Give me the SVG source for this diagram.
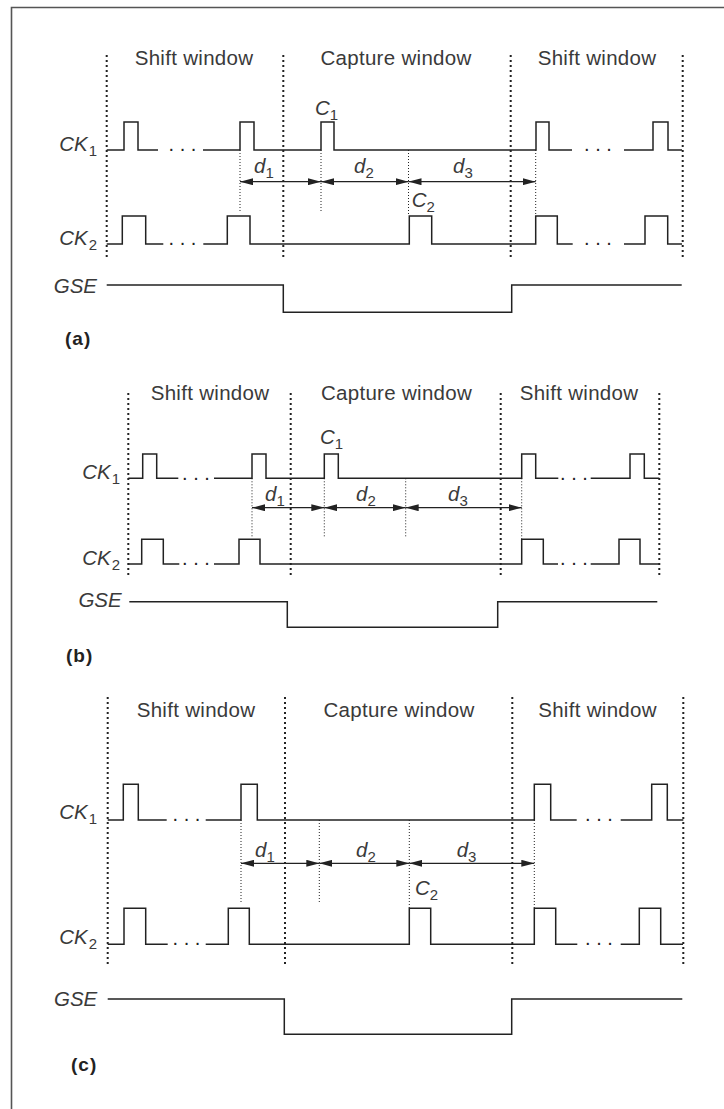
<svg xmlns="http://www.w3.org/2000/svg" width="724" height="1109" viewBox="0 0 724 1109">
<defs>
<marker id="ah" viewBox="0 0 13 7" refX="13" refY="3.5" markerWidth="13" markerHeight="7" markerUnits="userSpaceOnUse" orient="auto-start-reverse">
<path d="M0,0 L13,3.5 L0,7 Z" fill="#222"/>
</marker>
</defs>
<style>
.frame{fill:none;stroke:#555;stroke-width:1.6}
.sig{fill:none;stroke:#222;stroke-width:1.5}
.win{fill:none;stroke:#222;stroke-width:2;stroke-dasharray:2 3}
.mk{fill:none;stroke:#222;stroke-width:1;stroke-dasharray:1 2}
.arr{fill:none;stroke:#222;stroke-width:1.2;marker-start:url(#ah);marker-end:url(#ah)}
.t{font-family:"Liberation Sans",Arial,sans-serif;font-size:20.5px;fill:#3a3a3a;letter-spacing:0.3px}
.lb{font-family:"Liberation Sans",Arial,sans-serif;font-size:20.5px;fill:#3a3a3a;font-style:italic}
.el{font-family:"Liberation Sans",Arial,sans-serif;font-size:20px;fill:#222;text-anchor:middle}
.pl{font-family:"Liberation Sans",Arial,sans-serif;font-size:19px;font-weight:bold;fill:#222;letter-spacing:1px}
.sub{font-size:15px;font-style:normal}
</style>
<rect width="724" height="1109" fill="#fff"/>
<path class="frame" d="M11.5,1109 V7.5 H724"/>

<!-- Panel (a) -->
<g id="panel-a">
<g id="a-windows">
<text class="t" x="194" y="65" text-anchor="middle">Shift window</text>
<text class="t" x="396" y="65" text-anchor="middle">Capture window</text>
<text class="t" x="597" y="65" text-anchor="middle">Shift window</text>
<path class="win" d="M106.7,55 V258 M283.3,55 V258 M510.7,55 V258 M682.7,55 V258"/>
</g>
<g id="a-ck1">
<text class="lb" x="97" y="151" text-anchor="end">CK<tspan class="sub" dx="1" dy="5">1</tspan></text>
<path class="sig" d="M106.7,150 H124 V122 H138 V150 H158 M203,150 H240 V122 H254 V150 H321 V122 H334 V150 H536 V122 H549 V150 H572 M624,150 H653 V122 H668 V150 H682"/>
<text class="el" x="182.5" y="151">. . .</text>
<text class="el" x="598" y="151">. . .</text>
<text class="lb" x="315" y="115">C<tspan class="sub" dy="5">1</tspan></text>
</g>
<g id="a-ck2">
<text class="lb" x="97" y="245" text-anchor="end">CK<tspan class="sub" dx="1" dy="5">2</tspan></text>
<path class="sig" d="M106.7,244 H122.3 V216 H145.7 V244 H163.3 M203.3,244 H227.3 V216 H250 V244 H409.3 V216 H431.7 V244 H535.7 V216 H557.3 V244 H572.7 M624,244 H645 V216 H667.7 V244 H682"/>
<text class="el" x="182.5" y="245">. . .</text>
<text class="el" x="598" y="245">. . .</text>
<text class="lb" x="411.7" y="207">C<tspan class="sub" dy="5">2</tspan></text>
</g>
<g id="a-gse">
<text class="lb" x="97" y="293" text-anchor="end">GSE</text>
<path class="sig" d="M106.7,285 H283.3 V312.3 H511.7 V285 H681.7"/>
</g>
<text class="pl" x="65" y="345">(a)</text>
</g>

<!-- Panel (b) -->
<g id="panel-b">
<g id="b-windows">
<text class="t" x="210" y="400" text-anchor="middle">Shift window</text>
<text class="t" x="396.5" y="400" text-anchor="middle">Capture window</text>
<text class="t" x="579" y="400" text-anchor="middle">Shift window</text>
<path class="win" d="M128.3,393 V578 M290.7,393 V578 M500.7,393 V578 M659.3,393 V578"/>
</g>
<g id="b-ck1">
<text class="lb" x="120" y="479" text-anchor="end">CK<tspan class="sub" dx="1" dy="5">1</tspan></text>
<path class="sig" d="M128.3,478.3 H142.7 V454 H156.7 V478.3 H178.3 M214,478.3 H252 V454 H266 V478.3 H324.3 V454 H338.3 V478.3 H521.7 V454 H535.7 V478.3 H558.3 M590.7,478.3 H630 V454 H644.3 V478.3 H659.3"/>
<text class="el" x="196" y="479.5">. . .</text>
<text class="el" x="574" y="479.5">. . .</text>
<text class="lb" x="320" y="444">C<tspan class="sub" dy="5">1</tspan></text>
</g>
<g id="b-ck2">
<text class="lb" x="120" y="565" text-anchor="end">CK<tspan class="sub" dx="1" dy="5">2</tspan></text>
<path class="sig" d="M128.3,564 H141.7 V539.3 H163.3 V564 H179.3 M214,564 H239 V539.3 H260 V564 H521.7 V539.3 H543.3 V564 H558 M590.7,564 H619 V539.3 H640 V564 H659.3"/>
<text class="el" x="196" y="565.2">. . .</text>
<text class="el" x="574" y="565.2">. . .</text>
</g>
<g id="b-gse">
<text class="lb" x="121.7" y="607" text-anchor="end">GSE</text>
<path class="sig" d="M129.3,601.7 H287.3 V627.3 H497.7 V601.7 H657.3"/>
</g>
<text class="pl" x="66" y="662">(b)</text>
</g>

<!-- Panel (c) -->
<g id="panel-c">
<g id="c-windows">
<text class="t" x="196" y="716.7" text-anchor="middle">Shift window</text>
<text class="t" x="399" y="716.7" text-anchor="middle">Capture window</text>
<text class="t" x="597.5" y="716.7" text-anchor="middle">Shift window</text>
<path class="win" d="M107.7,697 V964 M285,697 V964 M512.3,697 V964 M683.3,697 V964"/>
</g>
<g id="c-ck1">
<text class="lb" x="97" y="819" text-anchor="end">CK<tspan class="sub" dx="1" dy="5">1</tspan></text>
<path class="sig" d="M107.7,820 H123.3 V784.3 H138.3 V820 H166.7 M205.7,820 H241 V784.3 H257.3 V820 H534.3 V784.3 H550.7 V820 H576.7 M620.7,820 H651.7 V784.3 H667.3 V820 H683.3"/>
<text class="el" x="186.5" y="821">. . .</text>
<text class="el" x="599" y="821">. . .</text>
</g>
<g id="c-ck2">
<text class="lb" x="97" y="943.5" text-anchor="end">CK<tspan class="sub" dx="1" dy="5">2</tspan></text>
<path class="sig" d="M107.7,944.3 H124 V908.3 H145.7 V944.3 H167.7 M205.7,944.3 H228.3 V908.3 H249.3 V944.3 H409.3 V908.3 H430.7 V944.3 H534.3 V908.3 H555.7 V944.3 H577.3 M620.7,944.3 H639.3 V908.3 H660.7 V944.3 H683"/>
<text class="el" x="186.5" y="945.3">. . .</text>
<text class="el" x="599" y="945.3">. . .</text>
<text class="lb" x="415" y="895">C<tspan class="sub" dy="5">2</tspan></text>
</g>
<g id="c-gse">
<text class="lb" x="97.3" y="1006" text-anchor="end">GSE</text>
<path class="sig" d="M107.7,999 H284.3 V1034.3 H511.7 V999 H682.3"/>
</g>
<text class="pl" x="71" y="1071">(c)</text>
</g>

<!-- Connectors: delay markers and arrows -->
<g id="connectors">
<path class="mk" d="M240,150 V213 M321,150 V213 M408.5,150 V216 M535.7,150 V216"/>
<path class="arr" d="M240,181.7 H321"/>
<path class="arr" d="M321,181.7 H408.5"/>
<path class="arr" d="M408.5,181.7 H535.7"/>
<text class="lb" x="254" y="173">d<tspan class="sub" dy="5">1</tspan></text>
<text class="lb" x="354" y="173">d<tspan class="sub" dy="5">2</tspan></text>
<text class="lb" x="453" y="173">d<tspan class="sub" dy="5">3</tspan></text>

<path class="mk" d="M252,478.3 V537 M324.3,478.3 V537 M405.7,478.3 V537 M521.7,478.3 V539.3"/>
<path class="arr" d="M252,507.7 H324.3"/>
<path class="arr" d="M324.3,507.7 H405.7"/>
<path class="arr" d="M405.7,507.7 H521.7"/>
<text class="lb" x="265" y="501">d<tspan class="sub" dy="5">1</tspan></text>
<text class="lb" x="356" y="501">d<tspan class="sub" dy="5">2</tspan></text>
<text class="lb" x="448" y="501">d<tspan class="sub" dy="5">3</tspan></text>

<path class="mk" d="M241,820 V903 M319.3,820 V904 M409.3,820 V908.3 M534.3,820 V908.3"/>
<path class="arr" d="M241,863.3 H319.3"/>
<path class="arr" d="M319.3,863.3 H409.3"/>
<path class="arr" d="M409.3,863.3 H534.3"/>
<text class="lb" x="255" y="856.5">d<tspan class="sub" dy="5">1</tspan></text>
<text class="lb" x="356" y="856.5">d<tspan class="sub" dy="5">2</tspan></text>
<text class="lb" x="456.7" y="856.5">d<tspan class="sub" dy="5">3</tspan></text>
</g>
</svg>
